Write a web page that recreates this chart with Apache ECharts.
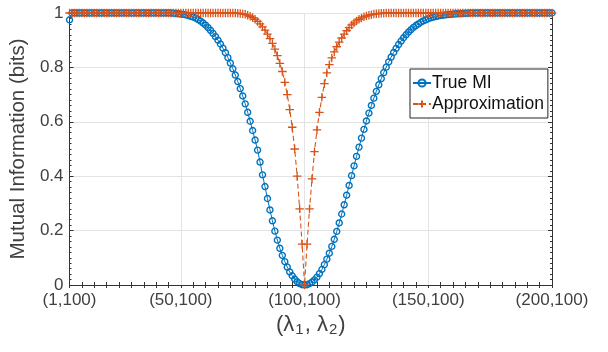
<!DOCTYPE html>
<html>
<head>
<meta charset="utf-8">
<script src="https://cdn.jsdelivr.net/npm/echarts@6/dist/echarts.min.js"></script>
<style>
  html, body { margin: 0; padding: 0; background: #fff; }
  #chart { width: 608px; height: 352px; }
</style>
</head>
<body>
<div id="chart"></div>
<script>
// x positions on the axis: first point sits at 5, one step per lambda_1
const LAMBDA_START = 5
const TICK_POSITIONS = [5, 50, 100, 150, 200]
const TICK_LABELS = ['(1,100)', '(50,100)', '(100,100)', '(150,100)', '(200,100)']
const GRID_X = [50, 100, 150]

const TRUE_MI = [
  0.975, 1, 1, 1, 1, 1, 1, 1, 1, 1,
  1, 1, 1, 1, 1, 1, 1, 1, 1, 1,
  1, 1, 1, 1, 1, 1, 1, 1, 1, 1,
  1, 1, 1, 1, 1, 1, 1, 1, 1, 1,
  1, 1, 0.999, 0.998, 0.997, 0.996, 0.995, 0.993, 0.991, 0.988,
  0.985, 0.981, 0.976, 0.970, 0.963, 0.955, 0.946, 0.936, 0.925, 0.913,
  0.900, 0.886, 0.871, 0.854, 0.836, 0.816, 0.795, 0.772, 0.748, 0.722,
  0.695, 0.666, 0.635, 0.602, 0.568, 0.533, 0.496, 0.452, 0.405, 0.362,
  0.318, 0.276, 0.236, 0.198, 0.165, 0.135, 0.109, 0.086, 0.066, 0.048,
  0.034, 0.022, 0.012, 0.005, 0.001, 0, 0.001, 0.005, 0.011, 0.019,
  0.029, 0.042, 0.057, 0.075, 0.095, 0.117, 0.142, 0.168, 0.197, 0.228,
  0.261, 0.295, 0.330, 0.366, 0.402, 0.438, 0.473, 0.507, 0.540, 0.572,
  0.603, 0.632, 0.660, 0.687, 0.712, 0.736, 0.759, 0.781, 0.801, 0.820,
  0.838, 0.855, 0.870, 0.884, 0.897, 0.909, 0.920, 0.930, 0.939, 0.947,
  0.954, 0.960, 0.966, 0.971, 0.975, 0.979, 0.982, 0.985, 0.987, 0.989,
  0.991, 0.992, 0.993, 0.994, 0.995, 0.996, 0.997, 0.997, 0.998, 0.998,
  0.999, 0.999, 1, 1, 1, 1, 1, 1, 1, 1,
  1, 1, 1, 1, 1, 1, 1, 1, 1, 1,
  1, 1, 1, 1, 1, 1, 1, 1, 1, 1,
  1, 1, 1, 1, 1, 1
]

const APPROX_MI = [
  1, 1, 1, 1, 1, 1, 1, 1, 1, 1,
  1, 1, 1, 1, 1, 1, 1, 1, 1, 1,
  1, 1, 1, 1, 1, 1, 1, 1, 1, 1,
  1, 1, 1, 1, 1, 1, 1, 1, 1, 1,
  1, 1, 1, 1, 1, 1, 1, 1, 1, 1,
  1, 1, 1, 1, 1, 1, 1, 1, 1, 1,
  1, 1, 1, 1, 1, 1, 1, 1, 0.999, 0.998,
  0.997, 0.995, 0.992, 0.988, 0.983, 0.977, 0.969, 0.960, 0.949, 0.937,
  0.922, 0.906, 0.888, 0.867, 0.843, 0.815, 0.785, 0.745, 0.700, 0.645,
  0.580, 0.500, 0.400, 0.280, 0.150, 0, 0.150, 0.280, 0.390, 0.490,
  0.570, 0.635, 0.690, 0.740, 0.780, 0.810, 0.835, 0.857, 0.876, 0.893,
  0.908, 0.922, 0.935, 0.946, 0.956, 0.964, 0.971, 0.977, 0.982, 0.986,
  0.989, 0.992, 0.994, 0.996, 0.997, 0.998, 0.999, 0.999, 1, 1,
  1, 1, 1, 1, 1, 1, 1, 1, 1, 1,
  1, 1, 1, 1, 1, 1, 1, 1, 1, 1,
  1, 1, 1, 1, 1, 1, 1, 1, 1, 1,
  1, 1, 1, 1, 1, 1, 1, 1, 1, 1,
  1, 1, 1, 1, 1, 1, 1, 1, 1, 1,
  1, 1, 1, 1, 1, 1, 1, 1, 1, 1,
  1, 1, 1, 1, 1, 1
]

const BLUE = '#0072BD'
const ORANGE = '#D95319'
const AXIS_COLOR = '#333333'
const TEXT_COLOR = '#404040'
const GRID_COLOR = '#e3e3e3'
const FONT = '"Liberation Sans", Arial, Helvetica, sans-serif'
const PLUS_PATH = 'path://M5,0L5,10M0,5L10,5'

const toPoints = (values) => values.map((v, i) => [LAMBDA_START + i, v])

const xCommon = {
  type: 'value',
  min: 5,
  max: 200,
  interval: 5,
  axisLine: { show: true, lineStyle: { color: AXIS_COLOR, width: 1 } },
  axisTick: { show: true, inside: true, length: 3, lineStyle: { color: AXIS_COLOR } },
  splitLine: { show: false },
}

const yCommon = {
  type: 'value',
  min: 0,
  max: 1,
  interval: 0.2,
  axisLine: { show: true, lineStyle: { color: AXIS_COLOR, width: 1 } },
  axisTick: { show: true, inside: true, length: 4, lineStyle: { color: AXIS_COLOR } },
  minorTick: { show: true, splitNumber: 10, length: 2, lineStyle: { color: AXIS_COLOR } },
}

const chart = echarts.init(document.getElementById('chart'), null, { renderer: 'canvas' })

chart.setOption({
  animation: false,
  textStyle: { fontFamily: FONT },
  grid: { left: 69, right: 56, top: 13, bottom: 67, containLabel: false },
  legend: {
    orient: 'vertical',
    left: 410,
    top: 69,
    padding: [5, 4, 5, 2],
    itemGap: 3,
    itemWidth: 18,
    itemHeight: 9,
    backgroundColor: '#fff',
    borderColor: '#262626',
    borderWidth: 1,
    borderRadius: 0,
    textStyle: { color: '#111', fontSize: 17.5, fontFamily: FONT, padding: [0, 0, 0, -4] },
    data: ['True MI', 'Approximation'],
  },
  xAxis: [
    {
      ...xCommon,
      position: 'bottom',
      axisLabel: {
        show: true,
        color: TEXT_COLOR,
        fontSize: 17,
        margin: 7,
        formatter: (v) => {
          const i = TICK_POSITIONS.indexOf(Math.round(v))
          return i >= 0 ? TICK_LABELS[i] : ''
        },
      },
      name: '({a|λ}{s|1}{a|, λ}{s|2}{a|)}',
      nameLocation: 'middle',
      nameGap: 26,
      nameTextStyle: {
        color: TEXT_COLOR,
        fontSize: 22,
        rich: {
          a: { fontSize: 22, color: TEXT_COLOR, fontFamily: FONT },
          s: { fontSize: 15, color: TEXT_COLOR, fontFamily: FONT, verticalAlign: 'bottom', padding: [10, 1, 0, 1] },
        },
      },
    },
    {
      ...xCommon,
      position: 'top',
      axisLabel: { show: false },
    },
  ],
  yAxis: [
    {
      ...yCommon,
      position: 'left',
      axisLabel: { show: true, color: TEXT_COLOR, fontSize: 17, margin: 6 },
      splitLine: { show: true, lineStyle: { color: GRID_COLOR, width: 1 } },
      name: 'Mutual Information (bits)',
      nameLocation: 'middle',
      nameGap: 36,
      nameTextStyle: { color: TEXT_COLOR, fontSize: 20.5 },
    },
    {
      ...yCommon,
      position: 'right',
      axisLabel: { show: false },
      splitLine: { show: false },
    },
  ],
  series: [
    {
      name: 'True MI',
      type: 'line',
      xAxisIndex: 0,
      yAxisIndex: 0,
      data: toPoints(TRUE_MI),
      clip: false,
      symbol: 'circle',
      symbolSize: 6,
      showAllSymbol: true,
      itemStyle: { color: 'rgba(255,255,255,0)', borderColor: BLUE, borderWidth: 1.4 },
      lineStyle: { color: BLUE, width: 1 },
      emphasis: { disabled: true },
      markLine: {
        silent: true,
        z: 1,
        symbol: ['none', 'none'],
        label: { show: false },
        lineStyle: { color: GRID_COLOR, width: 1, type: 'solid' },
        data: GRID_X.map((x) => ({ xAxis: x })),
      },
    },
    {
      name: 'Approximation',
      type: 'line',
      xAxisIndex: 0,
      yAxisIndex: 0,
      data: toPoints(APPROX_MI),
      clip: false,
      symbol: PLUS_PATH,
      symbolSize: 8.5,
      showAllSymbol: true,
      itemStyle: { color: 'rgba(255,255,255,0)', borderColor: ORANGE, borderWidth: 1.3 },
      lineStyle: { color: ORANGE, width: 1.1, type: [5, 3] },
      emphasis: { disabled: true },
    },
  ],
})
</script>
</body>
</html>
